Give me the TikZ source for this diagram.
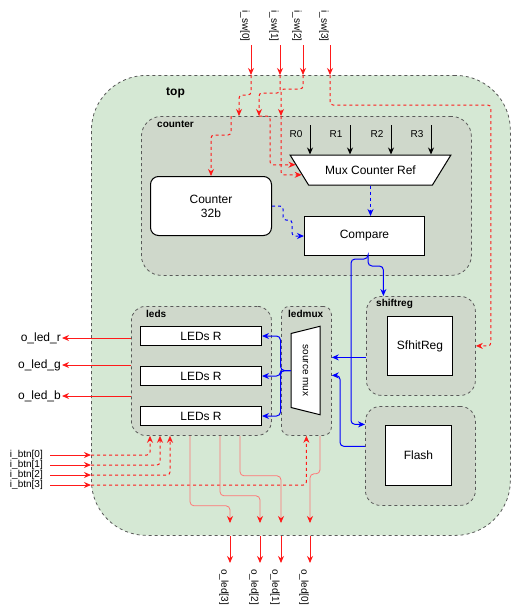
\documentclass[tikz,border=0pt]{standalone}
\usepackage{fontspec}
\setmainfont{Liberation Sans}
\usetikzlibrary{shapes.geometric,arrows.meta}
\definecolor{topgreen}{RGB}{213,232,212}
\definecolor{modgray}{RGB}{207,216,203}
\definecolor{wirered}{RGB}{255,26,26}
\definecolor{wireblue}{RGB}{0,0,255}
\tikzset{
  module/.style={draw=black!65, dashed, fill=modgray, anchor=north west, line width=0.8pt},
  block/.style={draw, fill=white, anchor=north west, line width=1pt, align=center, inner sep=1pt},
  modlabel/.style={font=\bfseries\fontsize{10}{12}\selectfont, anchor=west, inner sep=0pt},
  pinlabel/.style={font=\fontsize{10}{12}\selectfont, inner sep=1pt},
  rwire/.style={draw=wirered, line width=1pt, -{Stealth[length=7pt,width=6pt]}},
  rdash/.style={rwire, dashed, rounded corners=3pt},
  rthin/.style={draw=wirered!60, line width=0.8pt, rounded corners=4pt, -{Stealth[length=7pt,width=6pt,color=wirered]}},
  bwire/.style={draw=wireblue, line width=1pt, rounded corners=4pt, -{Stealth[length=7pt,width=6pt]}},
  kwire/.style={draw=black, line width=1pt, -{Stealth[length=7pt,width=6pt]}},
}
\begin{document}
\begin{tikzpicture}[x=1pt, y=-1pt, font=\fontsize{12}{14}\selectfont]
  \useasboundingbox (0,0) rectangle (511,611);
  % modules
  \node[module, fill=topgreen, rounded corners=55pt, minimum width=419pt, minimum height=460pt] (top) at (91,75) {};
  \node[font=\bfseries\fontsize{12}{14}\selectfont, anchor=west, inner sep=0pt] (toplbl) at (166,93) {top};
  \node[module, rounded corners=20pt, minimum width=330pt, minimum height=159pt] (cnt) at (141,116) {};
  \node[modlabel] (cntlbl) at (157,124) {counter};
  \node[module, rounded corners=14pt, minimum width=140pt, minimum height=129pt] (leds) at (131,306) {};
  \node[modlabel] (ledslbl) at (146,314) {leds};
  \node[module, rounded corners=8pt, minimum width=50pt, minimum height=129pt] (ledmux) at (281,306) {};
  \node[modlabel] (ledmuxlbl) at (288,314) {ledmux};
  \node[module, rounded corners=15pt, minimum width=109pt, minimum height=99pt] (shiftreg) at (366,296) {};
  \node[modlabel] (shiftreglbl) at (376,304) {shiftreg};
  \node[module, rounded corners=15pt, minimum width=110pt, minimum height=99pt] (flashc) at (365,406) {};
  % blocks
  \node[block, rounded corners=8pt, minimum width=121pt, minimum height=59pt] (cntr) at (150,176) {Counter\\32b};
  \node[block, minimum width=120pt, minimum height=39pt] (cmp) at (304,216) {Compare};
  \node[block, minimum width=121pt, minimum height=19pt] (ledr1) at (140,326) {LEDs R};
  \node[block, minimum width=121pt, minimum height=19pt] (ledr2) at (140,366) {LEDs R};
  \node[block, minimum width=121pt, minimum height=19pt] (ledr3) at (140,406) {LEDs R};
  \node[block, minimum width=65pt, minimum height=59pt] (sreg) at (387,316) {SfhitReg};
  \node[block, minimum width=66pt, minimum height=60pt] (flash) at (385,425) {Flash};
  \node[trapezium, draw, fill=white, line width=1pt, trapezium stretches=true, shape border rotate=180,
        trapezium left angle=38, trapezium right angle=38, minimum width=161pt, minimum height=30pt,
        inner sep=1pt] (muxref) at (370.5,170) {Mux Counter Ref};
  \node[trapezium, draw, fill=white, line width=1pt, trapezium stretches=true, rotate=-90, shape border rotate=180,
        trapezium left angle=55, trapezium right angle=55, minimum width=89pt, minimum height=29pt,
        inner sep=1pt, font=\fontsize{10}{12}\selectfont] (smux) at (305.5,370.5) {source mux};
  % mux reference inputs
  \foreach \x/\n in {310/0,350/1,391/2,431/3} {
    \coordinate (rin\n) at (\x,125);
    \node[pinlabel] (rlbl\n) at ({\x-14},134) {R\n};
    \draw[kwire] (rin\n) -- (rin\n |- muxref.north);
  }
  % switch inputs
  \foreach \x/\n in {251/0,280/1,303/2,330/3} {
    \coordinate (sw\n) at (\x,45);
    \node[pinlabel, rotate=-90] (lsw\n) at ({\x-6},26) {i\_sw[\n]};
    \draw[rwire] (sw\n) -- (sw\n |- top.north);
  }
  \draw[rdash] (sw0 |- top.north) -- ++(0,20) -| (239,0 |- cnt.north);
  \draw[rdash] (sw1 |- top.north) -- ++(0,18) -| (259,0 |- cnt.north);
  \draw[rdash] (sw2 |- top.north) -- ++(0,14) -| (281,0 |- cnt.north);
  \draw[rdash] (sw3 |- top.north) -- ++(0,30) -| ([xshift=15pt]shiftreg.east) -- (shiftreg.east);
  \draw[rdash] (231,0 |- cnt.north) -- ++(0,19) -| (cntr.north);
  \draw[rdash] (259,0 |- cnt.north) -- ++(11,0) |- (muxref.176);
  \draw[rdash] (281,0 |- cnt.north) |- (muxref.184);
  % button inputs
  \foreach \y/\n in {455/0,465/1,475/2,485/3} {
    \coordinate (bt\n) at (50,\y);
    \node[pinlabel, anchor=east] (lbt\n) at (44,\y) {i\_btn[\n]};
    \draw[rwire] (bt\n) -- (bt\n -| top.west);
  }
  \draw[rdash] (bt0 -| top.west) -| (150,0 |- leds.south);
  \draw[rdash] (bt1 -| top.west) -| (160,0 |- leds.south);
  \draw[rdash] (bt2 -| top.west) -| (170,0 |- leds.south);
  \draw[rdash] (bt3 -| top.west) -| (ledmux.south);
  % led outputs
  \foreach \y/\c in {338/r,365/g,396/b} {
    \node[anchor=east, inner sep=1pt] (oled\c) at (62,\y) {o\_led\_\c};
    \draw[rwire] (leds.west |- oled\c) -- (oled\c.east);
  }
  \foreach \x/\n in {230/3,260/2,281/1,310/0} {
    \coordinate (oq\n) at (\x,563);
    \coordinate (ip\n) at (\x,523);
    \node[pinlabel, rotate=-90] (loq\n) at ({\x-6},587) {o\_led[\n]};
    \draw[rwire] (oq\n |- top.south) -- (oq\n);
  }
  \draw[rthin] (190,0 |- leds.south) -- ++(0,70) -| (ip3);
  \draw[rthin] (220,0 |- leds.south) -- ++(0,60) -| (ip2);
  \draw[rthin] (240,0 |- leds.south) -- ++(0,40) -| (ip1);
  \draw[rthin] (320,0 |- ledmux.south) -- ++(0,38) -| (ip0);
  % data path
  \draw[bwire, dashed] (muxref.south) -- (muxref.south |- cmp.north);
  \draw[bwire, dashed, rounded corners=3pt] (cntr.east) -- ++(11,0) -- ++(0,14) -- ++(9,0) |- (cmp.west);
  \draw[bwire] ([xshift=3.5pt]cmp.south) -- ++(0,10) -| ([xshift=-37.5pt]shiftreg.north);
  \draw[bwire] ([xshift=3.5pt]cmp.south) -- ++(0,3) -| ([xshift=-14pt,yshift=31.5pt]flashc.west) -- ([yshift=31.5pt]flashc.west);
  \draw[bwire] ([yshift=-11.5pt]shiftreg.west) -- ([yshift=13.5pt]ledmux.east);
  \draw[bwire] ([yshift=9.5pt]flashc.west) -- ++(-25,0) |- ([yshift=-4.5pt]ledmux.east);
  \draw[bwire] (smux.south) -- ++(-10,0) |- (ledr1.east);
  \draw[bwire] (smux.south) -- ++(-10,0) |- (ledr2.east);
  \draw[bwire] (smux.south) -- ++(-10,0) |- (ledr3.east);
\end{tikzpicture}
\end{document}
